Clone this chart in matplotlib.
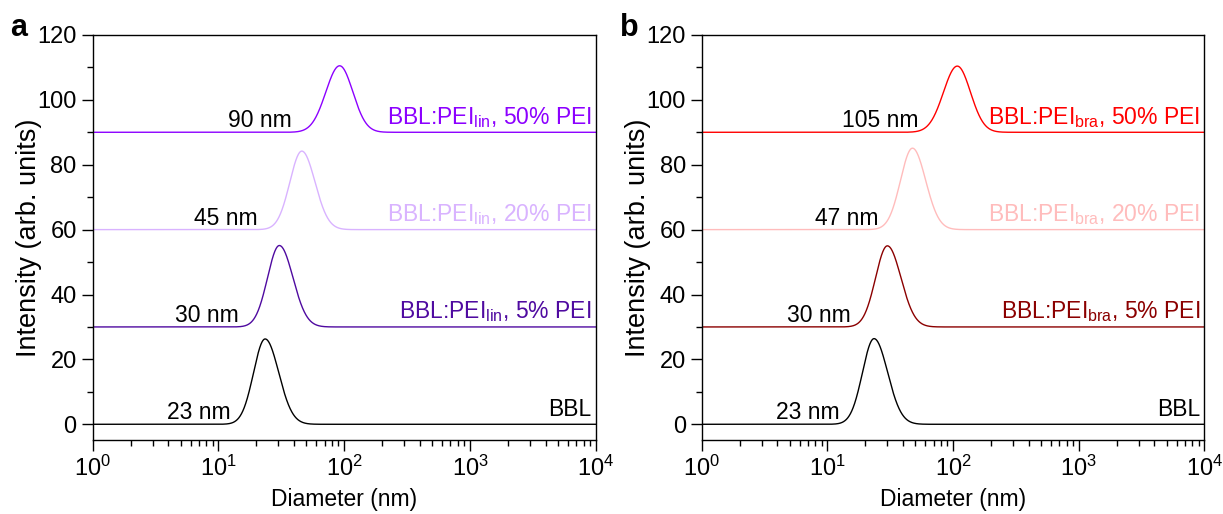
import numpy as np
import matplotlib.pyplot as plt
from matplotlib.ticker import LogLocator, MultipleLocator, NullFormatter, LogFormatterSciNotation

plt.rcParams['font.family'] = ['Liberation Sans', 'DejaVu Sans']
plt.rcParams['mathtext.fontset'] = 'custom'
plt.rcParams['mathtext.rm'] = 'Liberation Sans'
plt.rcParams['mathtext.it'] = 'Liberation Sans:italic'
plt.rcParams['mathtext.bf'] = 'Liberation Sans:bold'

# peak diameter (nm), peak height above baseline, log-width left/right, baseline offset
offsets = [0, 30, 60, 90]
peak_a = [23.5, 30.5, 46, 92]
height_a = [26.3, 25.1, 24.2, 20.5]
peak_b = [23.5, 30.0, 47.5, 108]
height_b = [26.4, 25.0, 25.1, 20.4]
sig_left = [0.092, 0.094, 0.095, 0.11]
sig_right = [0.108, 0.108, 0.105, 0.105]

size_a = ['23 nm', '30 nm', '45 nm', '90 nm']
size_b = ['23 nm', '30 nm', '47 nm', '105 nm']
names_a = ['BBL', r'BBL:PEI$_{\mathregular{lin}}$, 5% PEI',
           r'BBL:PEI$_{\mathregular{lin}}$, 20% PEI', r'BBL:PEI$_{\mathregular{lin}}$, 50% PEI']
names_b = ['BBL', r'BBL:PEI$_{\mathregular{bra}}$, 5% PEI',
           r'BBL:PEI$_{\mathregular{bra}}$, 20% PEI', r'BBL:PEI$_{\mathregular{bra}}$, 50% PEI']
colors_a = ['black', '#4f0aa0', '#d9b3ff', '#8c00ff']
colors_b = ['black', '#8b0000', '#ffbcbc', '#ff0000']

# where the size labels end (nm)
size_x_a = [12.4, 14.5, 20.6, 38]
size_x_b = [12.6, 15.4, 25.3, 53]

d = np.logspace(0, 4, 3000)


def dist(peak, h, sl, sr):
    u = np.log10(d) - np.log10(peak)
    s = np.where(u < 0, sl, sr)
    return h * np.exp(-u ** 2 / (2 * s ** 2))


fig = plt.figure(figsize=(12.23, 5.14), dpi=100)
ax_a = fig.add_axes([0.0758, 0.144, 0.4113, 0.788])
ax_b = fig.add_axes([0.5738, 0.144, 0.4110, 0.788])

panels = [(ax_a, peak_a, height_a, size_a, names_a, colors_a, size_x_a),
          (ax_b, peak_b, height_b, size_b, names_b, colors_b, size_x_b)]

for ax, peaks, heights, sizes, names, colors, sx in panels:
    for i in range(4):
        y = offsets[i] + dist(peaks[i], heights[i], sig_left[i], sig_right[i])
        ax.plot(d, y, color=colors[i], lw=1.0)
        ax.text(sx[i], offsets[i] + 1.5, sizes[i], ha='right', va='baseline',
                fontsize=16.5, color='black')
        ax.text(0.992, offsets[i] + 2.6, names[i], transform=ax.get_yaxis_transform(),
                ha='right', va='baseline', fontsize=16.5, color=colors[i])
    ax.set_xscale('log')
    ax.set_xlim(1, 1e4)
    ax.set_ylim(-4.84, 120)
    ax.xaxis.set_major_locator(LogLocator(base=10, numticks=10))
    ax.xaxis.set_major_formatter(LogFormatterSciNotation())
    ax.xaxis.set_minor_locator(LogLocator(base=10, subs=np.arange(2, 10), numticks=20))
    ax.xaxis.set_minor_formatter(NullFormatter())
    ax.yaxis.set_major_locator(MultipleLocator(20))
    ax.yaxis.set_minor_locator(MultipleLocator(10))
    ax.tick_params(which='major', direction='out', length=8, width=1, labelsize=17)
    ax.tick_params(which='minor', direction='out', length=4, width=1)
    for sp in ax.spines.values():
        sp.set_linewidth(1.0)
    ax.set_xlabel('Diameter (nm)', fontsize=16.5, labelpad=5)
    ax.set_ylabel('Intensity (arb. units)', fontsize=19.5, labelpad=-3)

fig.text(0.008, 0.945, 'a', fontsize=22, fontweight='bold', va='center')
fig.text(0.507, 0.945, 'b', fontsize=22, fontweight='bold', va='center')

fig.savefig('out.png', dpi=100)
